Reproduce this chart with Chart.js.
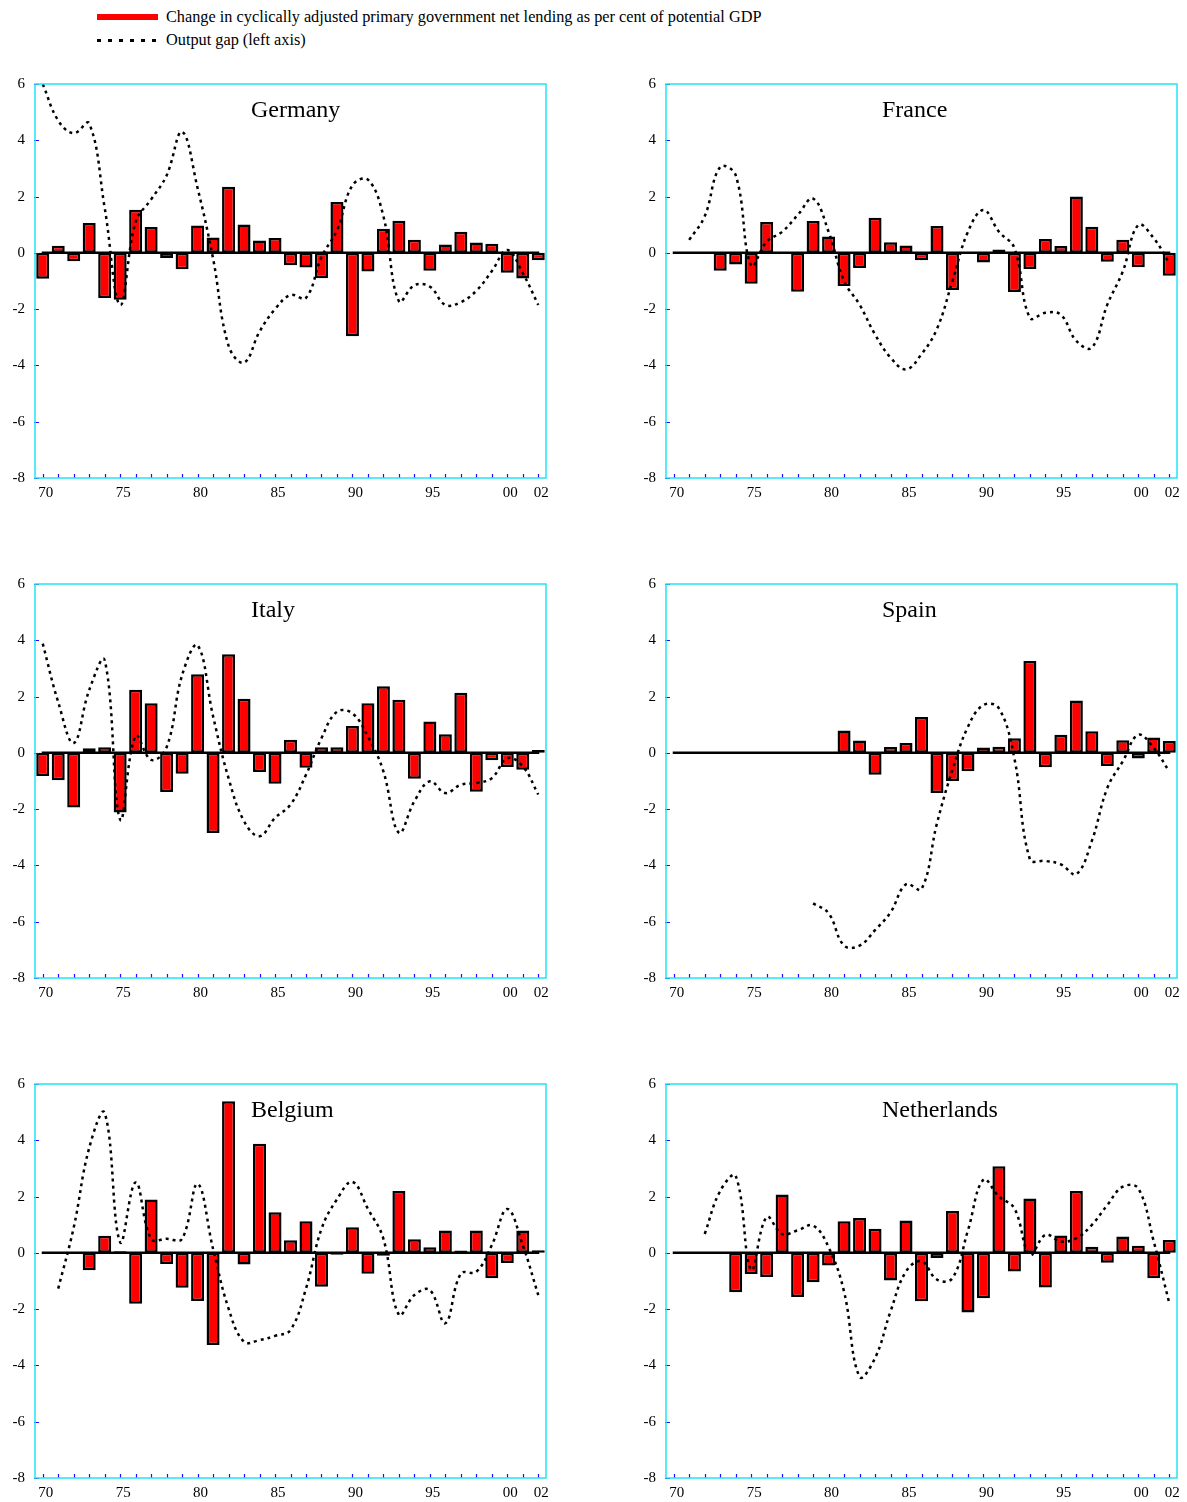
<!DOCTYPE html>
<html>
<head>
<meta charset="utf-8">
<script src="https://cdn.jsdelivr.net/npm/chart.js@4.4.0/dist/chart.umd.min.js"></script>
<style>
  body { margin: 0; background: #fff; width: 1187px; height: 1502px; position: relative; overflow: hidden;
         font-family: 'Liberation Serif', 'Times New Roman', serif; }
  .legend { position: absolute; left: 97px; font-size: 16.3px; line-height: 18px; color: #000;
            display: flex; align-items: center; white-space: nowrap; }
  .sw { display: inline-block; width: 61px; margin-right: 8px; }
  .sw.bar { height: 6px; background: #ff0000; }
  .sw.dot { height: 3px; background: repeating-linear-gradient(to right, #000 0 4px, transparent 4px 11px); }
  canvas { position: absolute; }
</style>
</head>
<body>
<div class="legend" style="top:8px"><span class="sw bar"></span>Change in cyclically adjusted primary government net lending as per cent of potential GDP</div>
<div class="legend" style="top:31px"><span class="sw dot"></span>Output gap (left axis)</div>

<script>
// ---- data -------------------------------------------------------------
const YEAR_LABELS = ['70','71','72','73','74','75','76','77','78','79',
                     '80','81','82','83','84','85','86','87','88','89',
                     '90','91','92','93','94','95','96','97','98','99',
                     '00','01','02'];
const SHOWN_TICKS = ['70','75','80','85','90','95','00','02'];
const Y_MIN = -8, Y_MAX = 6, Y_STEP = 2;

const COUNTRIES = ['Germany', 'France', 'Italy', 'Spain', 'Belgium', 'Netherlands'];

// change in cyclically adjusted primary balance (bars)
const DE_BARS = [-0.92, 0.25, -0.3, 1.06, -1.6, -1.67, 1.53, 0.92, -0.18, -0.58,
                 0.97, 0.55, 2.35, 1.01, 0.44, 0.53, -0.44, -0.52, -0.9, 1.81,
                 -2.96, -0.66, 0.86, 1.14, 0.47, -0.64, 0.3, 0.75, 0.37, 0.32,
                 -0.71, -0.91, -0.26];
const FR_BARS = [null, null, null, -0.64, -0.41, -1.1, 1.1, 0.02, -1.38, 1.13,
                 0.58, -1.18, -0.54, 1.25, 0.38, 0.26, -0.26, 0.95, -1.32, 0.02,
                 -0.34, 0.12, -1.39, -0.57, 0.49, 0.24, 2.0, 0.93, -0.32, 0.47,
                 -0.51, 0, -0.81];
const IT_BARS = [-0.82, -0.97, -1.94, 0.16, 0.2, -2.12, 2.24, 1.76, -1.39, -0.74,
                 2.79, -2.85, 3.5, 1.92, -0.68, -1.1, 0.47, -0.53, 0.2, 0.2,
                 0.95, 1.76, 2.37, 1.89, -0.92, 1.11, 0.66, 2.14, -1.38, -0.26,
                 -0.5, -0.6, 0.1];
const ES_BARS = [null, null, null, null, null, null, null, null, null, null,
                 null, 0.79, 0.44, -0.78, 0.21, 0.35, 1.27, -1.43, -1.0, -0.65,
                 0.19, 0.22, 0.52, 3.26, -0.51, 0.64, 1.86, 0.77, -0.47, 0.45,
                 -0.2, 0.55, 0.42];
const BE_BARS = [null, null, null, -0.62, 0.61, 0.06, -1.81, 1.9, -0.4, -1.24,
                 -1.71, -3.27, 5.39, -0.41, 3.88, 1.44, 0.45, 1.12, -1.2, -0.07,
                 0.91, -0.74, -0.1, 2.2, 0.48, 0.2, 0.79, 0.08, 0.79, -0.9,
                 -0.36, 0.79, 0.09];
const NL_BARS = [null, null, null, null, -1.4, -0.75, -0.86, 2.07, -1.57, -1.04,
                 -0.45, 1.12, 1.24, 0.86, -0.98, 1.15, -1.72, -0.18, 1.49, -2.12,
                 -1.61, 3.08, -0.66, 1.93, -1.23, 0.62, 2.2, 0.22, -0.35, 0.58,
                 0.25, -0.9, 0.46];

// output gap (dotted line)
const DE_GAP = [6.0, 4.7, 4.25, 4.6, 1.6, -1.85, 1.1, 1.9, 2.75, 4.3,
                2.3, -0.2, -3.3, -3.9, -2.8, -2.0, -1.5, -1.6, -0.15, 0.8,
                2.4, 2.6, 1.3, -1.72, -1.15, -1.2, -1.85, -1.75, -1.35, -0.65,
                0.1, -0.72, -1.85];
const FR_GAP = [null, 0.46, 1.3, 3.05, 2.76, -0.45, 0.4, 0.75, 1.34, 1.93,
                0.75, -1.0, -1.84, -2.9, -3.72, -4.14, -3.6, -2.7, -1.0, 0.75,
                1.52, 0.75, 0.17, -2.31, -2.13, -2.2, -3.13, -3.37, -1.84, -0.66,
                0.99, 0.52, -0.37];
const IT_GAP = [3.88, 1.8, 0.35, 2.23, 3.29, -2.37, 0.6, -0.25, 0.2, 2.76,
                3.82, 1.3, -0.9, -2.43, -2.96, -2.31, -1.84, -0.78, 0.52, 1.46,
                1.4, 0.58, -0.66, -2.84, -1.72, -1.01, -1.43, -1.13, -1.07, -0.9,
                -0.19, -0.48, -1.48];
const ES_GAP = [null, null, null, null, null, null, null, null, null, -5.35,
                -5.7, -6.85, -6.85, -6.3, -5.67, -4.67, -4.84, -2.5, -0.6, 0.93,
                1.7, 1.58, -0.2, -3.78, -3.84, -3.96, -4.31, -3.13, -1.25, -0.3,
                0.64, 0.17, -0.66];
const BE_GAP = [null, -1.27, 0.9, 3.73, 4.97, 0.38, 2.5, 0.5, 0.5, 0.5,
                2.45, 0.14, -1.98, -3.16, -3.1, -2.95, -2.74, -1.27, 0.85, 1.9,
                2.52, 1.56, 0.5, -2.2, -1.5, -1.32, -2.5, -0.74, -0.67, 0.27,
                1.56, 0.27, -1.5];
const NL_GAP = [null, null, 0.67, 2.2, 2.73, -0.6, 1.27, 0.67, 0.8, 0.97,
                0.2, -1.38, -4.4, -3.74, -2.08, -0.66, -0.3, -0.95, -0.9, 0.8,
                2.6, 2.0, 1.58, -0.07, 0.64, 0.4, 0.52, 0.99, 1.7, 2.35,
                2.29, 0.4, -1.78];

const BARS = [DE_BARS, FR_BARS, IT_BARS, ES_BARS, BE_BARS, NL_BARS];
const GAPS = [DE_GAP, FR_GAP, IT_GAP, ES_GAP, BE_GAP, NL_GAP];

// ---- layout -----------------------------------------------------------
const FONT = "'Liberation Serif', 'Times New Roman', serif";
const COL_X = [0, 631];
const ROW_Y = [65, 565, 1065];
const CANVAS_W = 556, CANVAS_H = 440;
const FRAME_COLOR = '#22e4f4';
const TICK_COLOR = '#1010ff';

// frame, inner tick marks, zero line and panel title
const panelDecor = {
  id: 'panelDecor',
  afterDatasetDraw(chart, args) {
    if (args.index !== 0) return;
    const { ctx, scales: { x, y } } = chart;
    const y0 = y.getPixelForValue(0);
    ctx.save();
    ctx.strokeStyle = '#000';
    ctx.lineWidth = 2.5;
    ctx.beginPath();
    ctx.moveTo(x.getPixelForValue(0) - 1, y0);
    ctx.lineTo(x.getPixelForValue(YEAR_LABELS.length - 1) + 1, y0);
    ctx.stroke();
    ctx.restore();
  },
  afterDraw(chart, args, opts) {
    const { ctx, chartArea: a, scales: { x, y } } = chart;
    ctx.save();
    // ticks
    ctx.strokeStyle = TICK_COLOR;
    ctx.lineWidth = 1.2;
    ctx.beginPath();
    YEAR_LABELS.forEach((_, i) => {
      const px = Math.round(x.getPixelForValue(i)) + 0.5;
      ctx.moveTo(px, a.bottom);
      ctx.lineTo(px, a.bottom - 4);
    });
    y.ticks.forEach(t => {
      const py = Math.round(y.getPixelForValue(t.value)) + 0.5;
      ctx.moveTo(a.left - 1, py);
      ctx.lineTo(a.left + 4, py);
    });
    ctx.stroke();
    // frame
    ctx.strokeStyle = FRAME_COLOR;
    ctx.lineWidth = 1.5;
    ctx.strokeRect(a.left, a.top, a.right - a.left, a.bottom - a.top);
    // title
    ctx.fillStyle = '#000';
    ctx.font = '24px ' + FONT;
    ctx.textAlign = 'left';
    ctx.textBaseline = 'middle';
    ctx.fillText(opts.title, a.left + 216, a.top + 27);
    ctx.restore();
  }
};

COUNTRIES.forEach((name, k) => {
  const cv = document.createElement('canvas');
  cv.width = CANVAS_W;
  cv.height = CANVAS_H;
  cv.style.left = COL_X[k % 2] + 'px';
  cv.style.top = ROW_Y[Math.floor(k / 2)] + 'px';
  document.body.appendChild(cv);

  new Chart(cv, {
    data: {
      labels: YEAR_LABELS,
      datasets: [
        {
          type: 'bar',
          data: BARS[k],
          backgroundColor: '#ff0000',
          borderColor: '#000',
          borderWidth: 2.5,
          borderSkipped: false,
          barPercentage: 0.84,
          categoryPercentage: 1,
          order: 2,
        },
        {
          type: 'line',
          data: GAPS[k],
          borderColor: '#000',
          borderWidth: 2.5,
          borderDash: [3, 4],
          pointRadius: 0,
          tension: 0.4,
          fill: false,
          order: 1,
        },
      ]
    },
    options: {
      responsive: false,
      animation: false,
      layout: { padding: { top: 8, right: 10, left: 0, bottom: 0 } },
      plugins: {
        legend: { display: false },
        tooltip: { enabled: false },
        panelDecor: { title: name },
      },
      scales: {
        x: {
          type: 'category',
          offset: true,
          grid: { display: false, drawTicks: false },
          border: { display: false },
          afterFit: s => { s.height = 27; },
          ticks: {
            autoSkip: false,
            maxRotation: 0,
            padding: 6,
            labelOffset: 3,
            color: '#000',
            font: { family: FONT, size: 15 },
            callback: (v, i) => SHOWN_TICKS.includes(YEAR_LABELS[i]) ? YEAR_LABELS[i] : '',
          },
        },
        y: {
          min: Y_MIN,
          max: Y_MAX,
          grid: { display: false, drawTicks: false },
          border: { display: false },
          afterFit: s => { s.width = 35; },
          ticks: {
            stepSize: Y_STEP,
            padding: 10,
            color: '#000',
            font: { family: FONT, size: 15 },
          },
        },
      },
    },
    plugins: [panelDecor],
  });
});
</script>
</body>
</html>
